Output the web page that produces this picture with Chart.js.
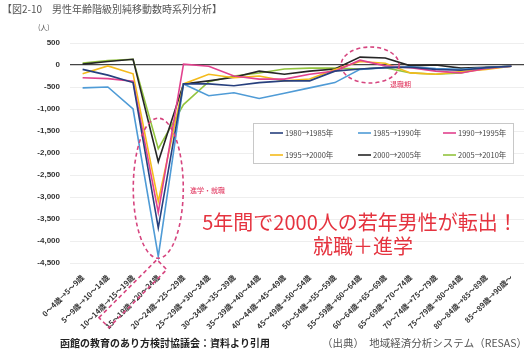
<!DOCTYPE html>
<html>
<head>
<meta charset="utf-8">
<script src="https://cdn.jsdelivr.net/npm/chart.js@4.4.1/dist/chart.umd.min.js"></script>
<style>
  html, body { margin: 0; padding: 0; background: #fff; }
  #chartContainer { width: 525px; height: 357px; position: relative; }
</style>
</head>
<body>
<div id="chartContainer"><canvas id="myChart" width="525" height="357"></canvas></div>
<script>
// age-band transitions (x axis)
const ageLabels = [
    '0～4歳→5～9歳', '5～9歳→10～14歳', '10～14歳→15～19歳', '15～19歳→20～24歳',
    '20～24歳→25～29歳', '25～29歳→30～34歳', '30～34歳→35～39歳', '35～39歳→40～44歳',
    '40～44歳→45～49歳', '45～49歳→50～54歳', '50～54歳→55～59歳', '55～59歳→60～64歳',
    '60～64歳→65～69歳', '65～69歳→70～74歳', '70～74歳→75～79歳', '75～79歳→80～84歳',
    '80～84歳→85～89歳', '85～89歳→90歳～'
];

const periodLabels = ['1980→1985年', '1985→1990年', '1990→1995年', '1995→2000年', '2000→2005年', '2005→2010年'];
const periodColors = ['#27407e', '#4f9bd6', '#e2428e', '#f4bb1c', '#262626', '#93c43f'];

// net migration (persons)
const p1980 = [-100, -230, -400, -3700, -430, -430, -470, -400, -360, -360, -140, -90, -60, -50, -100, -120, -60, -30];
const p1985 = [-520, -500, -1000, -4350, -430, -700, -630, -760, -640, -520, -400, -100, -60, -40, -80, -100, -60, -30];
const p1990 = [-290, -310, -370, -3350, 20, -30, -250, -320, -320, -210, -140, 110, -20, -60, -140, -180, -80, -30];
const p1995 = [-200, -20, -200, -3100, -430, -210, -290, -250, -360, -320, -100, 80, 40, -180, -210, -150, -100, -30];
const p2000 = [20, 80, 130, -2200, -430, -360, -280, -140, -210, -140, -90, 180, 160, -20, 0, -70, -50, -30];
const p2005 = [45, 100, 130, -1900, -900, -380, -250, -180, -90, -70, -70, -90, -60, -180, -210, -180, -60, -30];
const seriesValues = [p1980, p1985, p1990, p1995, p2000, p2005];

const yMin = -4500;
const yMax = 500;
const yStep = 500;

const jpFont = '"Noto Sans CJK JP", "Noto Sans", sans-serif';
const tickFontSize = 7.5;
const tickPadding = 2;

const decorations = {
    id: 'decorations',
    afterDraw(chart) {
        const ctx = chart.ctx;
        const x = chart.scales.x;
        const y = chart.scales.y;
        const area = chart.chartArea;
        ctx.save();

        // title and unit
        ctx.fillStyle = '#555';
        ctx.textBaseline = 'middle';
        ctx.textAlign = 'left';
        ctx.font = '10px ' + jpFont;
        ctx.fillText('【図2-10　男性年齢階級別純移動数時系列分析】', 2, 9);
        ctx.font = '7px ' + jpFont;
        ctx.fillText('(人)', 38, 27);

        // dashed ellipses
        ctx.strokeStyle = '#d6457f';
        ctx.lineWidth = 1.6;
        ctx.setLineDash([4, 3]);
        ctx.beginPath();
        ctx.ellipse(x.getPixelForValue(3), y.getPixelForValue(-2800), 25, 70, 0, 0, Math.PI * 2);
        ctx.stroke();
        ctx.beginPath();
        ctx.ellipse(x.getPixelForValue(11.4), y.getPixelForValue(0), 29, 18, 0, 0, Math.PI * 2);
        ctx.stroke();

        // box around the 15-19 -> 20-24 tick label (same geometry chart.js uses for rotated ticks)
        const lh = tickFontSize * 1.2;
        ctx.font = 'bold ' + tickFontSize + 'px ' + jpFont;
        const w = ctx.measureText(ageLabels[3]).width;
        ctx.save();
        ctx.translate(x.getPixelForValue(3) - lh / 2 * Math.SQRT1_2, area.bottom + tickPadding);
        ctx.rotate(-Math.PI / 4);
        ctx.strokeRect(-w - 4, lh / 2 - 7, w + 9, 14);
        ctx.restore();
        ctx.setLineDash([]);

        // small red notes
        ctx.fillStyle = '#e0305a';
        ctx.font = '7px ' + jpFont;
        ctx.fillText('進学・就職', 190, 190);
        ctx.fillText('退職期', 390, 84);

        // headline
        ctx.fillStyle = '#e5333f';
        ctx.textAlign = 'center';
        ctx.font = '20px ' + jpFont;
        ctx.fillText('5年間で2000人の若年男性が転出！', 360, 222);
        ctx.fillText('就職＋進学', 363, 246);

        // legend box
        const lx = 253, ly = 123, lw = 260, lhBox = 40;
        ctx.fillStyle = '#fff';
        ctx.fillRect(lx, ly, lw, lhBox);
        ctx.strokeStyle = '#c8c8c8';
        ctx.lineWidth = 1;
        ctx.strokeRect(lx + 0.5, ly + 0.5, lw, lhBox);
        ctx.textAlign = 'left';
        ctx.font = '7.5px ' + jpFont;
        const colX = [270, 358, 443];
        const rowY = [133, 155];
        periodLabels.forEach((label, i) => {
            const cx = colX[i % 3];
            const cy = rowY[Math.floor(i / 3)];
            ctx.strokeStyle = periodColors[i];
            ctx.lineWidth = 1.6;
            ctx.beginPath();
            ctx.moveTo(cx, cy);
            ctx.lineTo(cx + 13, cy);
            ctx.stroke();
            ctx.fillStyle = '#444';
            ctx.fillText(label, cx + 15, cy);
        });

        // footer
        ctx.fillStyle = '#222';
        ctx.font = 'bold 10px ' + jpFont;
        ctx.fillText('函館の教育のあり方検討協議会：資料より引用', 60, 343);
        ctx.fillStyle = '#555';
        ctx.font = '10.5px ' + jpFont;
        ctx.fillText('（出典）　地域経済分析システム（RESAS）', 322, 343);

        ctx.restore();
    }
};

const ctx = document.getElementById('myChart').getContext('2d');
new Chart(ctx, {
    type: 'line',
    data: {
        labels: ageLabels,
        datasets: periodLabels.map((label, i) => ({
            label: label,
            data: seriesValues[i],
            borderColor: periodColors[i],
            backgroundColor: periodColors[i],
            borderWidth: 1.6,
            pointRadius: 0,
            tension: 0,
            fill: false
        }))
    },
    options: {
        responsive: false,
        animation: false,
        layout: { padding: { top: 43, right: 1, left: 0, bottom: 0 } },
        plugins: {
            legend: { display: false },
            title: { display: false },
            tooltip: { enabled: false }
        },
        scales: {
            x: {
                offset: true,
                grid: { display: false },
                border: { display: false },
                ticks: {
                    autoSkip: false,
                    minRotation: 45,
                    maxRotation: 45,
                    padding: tickPadding,
                    color: '#333',
                    font: { family: jpFont, size: tickFontSize, weight: 'bold' }
                },
                afterFit: s => { s.height = 94; }
            },
            y: {
                min: yMin,
                max: yMax,
                ticks: {
                    stepSize: yStep,
                    padding: 10,
                    color: '#333',
                    font: { family: '"Liberation Sans", Arial, sans-serif', size: 8, weight: 'bold' },
                    callback: v => v.toLocaleString('en-US')
                },
                grid: {
                    drawTicks: false,
                    color: c => c.tick.value === 0 ? '#444' : '#eeeeee',
                    lineWidth: c => c.tick.value === 0 ? 1.2 : 1
                },
                border: { display: false },
                afterFit: s => { s.width = 70; }
            }
        }
    },
    plugins: [decorations]
});
</script>
</body>
</html>
